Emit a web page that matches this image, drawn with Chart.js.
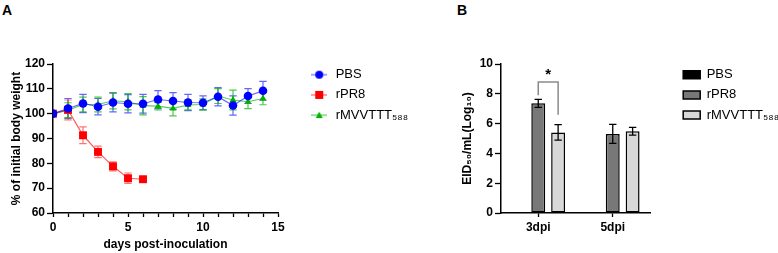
<!DOCTYPE html>
<html>
<head>
<meta charset="utf-8">
<script src="https://cdn.jsdelivr.net/npm/chart.js@4.4.0/dist/chart.umd.min.js"></script>
<style>
    html, body { margin: 0; padding: 0; background: #fff; }
    body { width: 778px; height: 253px; position: relative; overflow: hidden; font-family: "Liberation Sans", Arial, sans-serif; }
    .panel { position: absolute; top: 0; height: 253px; }
    #panelA { left: 0; width: 455px; }
    #panelB { left: 455px; width: 323px; }
    .tag { position: absolute; top: 3px; font: bold 14px "Liberation Sans", Arial, sans-serif; line-height: 14px; }
</style>
</head>
<body>
<div class="tag" style="left:2px">A</div>
<div class="tag" style="left:457px">B</div>
<div class="panel" id="panelA"><canvas id="weightChart"></canvas></div>
<div class="panel" id="panelB"><canvas id="titerChart"></canvas></div>
<script>
// --- Data: body weight (panel A) ---
const days = [0, 1, 2, 3, 4, 5, 6, 7, 8, 9, 10, 11, 12, 13, 14];
const groupNames = ['PBS', 'rPR8', 'rMVVTTT\u2085\u2088\u2088'];

const pbsWeight = [100, 102.1, 104.1, 102.8, 104.5, 104, 104, 105.7, 105.1, 104.5, 104.4, 106.8, 103.3, 107.1, 109.2];
const pbsWeightErr = [0, 4, 3.7, 3.3, 3.8, 3.7, 3.8, 3.6, 3.4, 3.3, 2.8, 3.7, 3.9, 3, 3.8];

const pr8Weight = [100, 101.5, 91.3, 84.6, 78.8, 74, 73.6]; // no survivors after day 6
const pr8WeightErr = [0, 4, 3.4, 2.3, 1.8, 2.1, 0.5];

const mvvWeight = [100, 101.4, 103.7, 103.7, 105.2, 104.8, 103.2, 103, 102.1, 103.5, 103.7, 107.1, 105.5, 104.8, 106.1];
const mvvWeightErr = [0, 3, 3, 3, 3.3, 3.3, 3.7, 1.5, 3, 2, 2.3, 3, 4, 2.8, 2.5];

const weightTickLabels = [0, 5, 10, 15];

// --- Data: lung virus titre (panel B) ---
const timepoints = ['3dpi', '5dpi'];
const pbsTiter = [null, null];           // nothing detected
const pr8Titer = [7.36, 5.31];
const pr8TiterErr = [0.27, 0.64];
const mvvTiter = [5.41, 5.49];
const mvvTiterErr = [0.52, 0.26];

// significance bracket at 3dpi: left foot, top, right foot
const sigBracket = [7.9, 8.8, 6.6];
const sigLabel = '*';

// --- Shared look ---
const FONT = '"Liberation Sans", Arial, sans-serif';
Chart.defaults.font.family = FONT;
Chart.defaults.color = '#000';

const colors = {
    pbs: '#0000ff', pbsLine: 'rgba(0, 0, 255, 0.6)',
    pr8: '#ff0000', pr8Line: 'rgba(255, 0, 0, 0.65)',
    mvv: '#00b000', mvvLine: 'rgba(0, 176, 0, 0.65)'
};

const toXY = (vals) => vals.map((v, i) => ({ x: days[i], y: v }));

// error bars drawn from each dataset's "errors" array, via the chart's own scales
const errorBars = {
    id: 'errorBars',
    draw(chart, opts) {
        const ctx = chart.ctx;
        const yScale = chart.scales.y;
        chart.data.datasets.forEach((ds, i) => {
            if (!ds.errors) return;
            const meta = chart.getDatasetMeta(i);
            ctx.save();
            ctx.strokeStyle = ds.errorColor || '#000';
            ctx.lineWidth = opts.width || 1.2;
            meta.data.forEach((el, j) => {
                const raw = ds.data[j];
                const v = (raw && typeof raw === 'object') ? raw.y : raw;
                const e = ds.errors[j];
                if (v == null || !e) return;
                const yTop = yScale.getPixelForValue(v + e);
                const yBot = yScale.getPixelForValue(v - e);
                const half = opts.cap || 3.5;
                ctx.beginPath();
                ctx.moveTo(el.x, yTop); ctx.lineTo(el.x, yBot);
                ctx.moveTo(el.x - half, yTop); ctx.lineTo(el.x + half, yTop);
                ctx.moveTo(el.x - half, yBot); ctx.lineTo(el.x + half, yBot);
                ctx.stroke();
            });
            ctx.restore();
        });
    },
    beforeDatasetsDraw(chart, args, opts) { if (opts.under) this.draw(chart, opts); },
    afterDatasetsDraw(chart, args, opts) { if (!opts.under) this.draw(chart, opts); }
};

// the legend clips to its own box, so give it a fixed width that fits the longest label
const legendWidth = {
    id: 'legendWidth',
    beforeLayout(chart, args, opts) {
        const lg = chart.legend;
        if (!lg || lg._fixedWidth) return;
        const fit = lg.fit;
        lg.fit = function () { fit.call(this); this.width = opts.width; };
        lg._fixedWidth = true;
    }
};

// small "line + marker" icon for the panel A legend
function legendIcon(fill, line, shape) {
    const c = document.createElement('canvas');
    c.width = 16; c.height = 10;
    const g = c.getContext('2d');
    g.strokeStyle = line; g.lineWidth = 1.2;
    g.beginPath(); g.moveTo(0, 5); g.lineTo(16, 5); g.stroke();
    g.fillStyle = fill;
    g.beginPath();
    if (shape === 'circle') g.arc(8, 5, 4, 0, Math.PI * 2);
    else if (shape === 'rect') g.rect(4, 1, 8, 8);
    else { g.moveTo(8, 1.5); g.lineTo(11.5, 8); g.lineTo(4.5, 8); g.closePath(); }
    g.fill();
    return c;
}

// invisible right-hand spacer, keeps the legend away from the plot
const spacer = (w) => ({
    type: 'linear', position: 'right', display: true,
    grid: { display: false }, ticks: { display: false }, border: { display: false },
    afterFit: (s) => { s.width = w; }
});

// --- Panel A: body weight ---
const weightIcons = [
    legendIcon(colors.pbs, colors.pbsLine, 'circle'),
    legendIcon(colors.pr8, colors.pr8Line, 'rect'),
    legendIcon(colors.mvv, colors.mvvLine, 'triangle')
];

new Chart(document.getElementById('weightChart'), {
    type: 'line',
    data: {
        datasets: [{
            label: groupNames[0],
            data: toXY(pbsWeight),
            errors: pbsWeightErr,
            errorColor: 'rgba(0, 0, 255, 0.6)',
            borderColor: colors.pbsLine,
            backgroundColor: colors.pbs,
            pointBackgroundColor: colors.pbs,
            pointBorderWidth: 0,
            pointStyle: 'circle',
            pointRadius: 4.3,
            borderWidth: 1.2
        }, {
            label: groupNames[1],
            data: toXY(pr8Weight),
            errors: pr8WeightErr,
            errorColor: 'rgba(255, 0, 0, 0.55)',
            borderColor: colors.pr8Line,
            backgroundColor: colors.pr8,
            pointBackgroundColor: colors.pr8,
            pointBorderWidth: 0,
            pointStyle: 'rect',
            pointRadius: 5.6,
            borderWidth: 1.2
        }, {
            label: groupNames[2],
            data: toXY(mvvWeight),
            errors: mvvWeightErr,
            errorColor: 'rgba(0, 176, 0, 0.7)',
            borderColor: colors.mvvLine,
            backgroundColor: colors.mvv,
            pointBackgroundColor: colors.mvv,
            pointBorderWidth: 0,
            pointStyle: 'triangle',
            pointRadius: 4,
            borderWidth: 1.2
        }]
    },
    options: {
        responsive: true,
        maintainAspectRatio: false,
        animation: false,
        events: [],
        layout: { padding: { top: 61, right: 33, bottom: 0, left: 0 } },
        plugins: {
            title: { display: true, text: '', padding: 0, font: { size: 3, lineHeight: 1 } },
            tooltip: { enabled: false },
            errorBars: { under: true, cap: 3.7, width: 1.2 },
            legendWidth: { width: 120 },
            legend: {
                position: 'right',
                align: 'start',
                labels: {
                    usePointStyle: true,
                    pointStyleWidth: 20,
                    padding: 7.2,
                    color: '#000',
                    font: { size: 13 },
                    generateLabels: (chart) =>
                        Chart.defaults.plugins.legend.labels.generateLabels(chart)
                            .map((item, i) => ({ ...item, pointStyle: weightIcons[i] }))
                }
            }
        },
        scales: {
            x: {
                type: 'linear',
                min: 0,
                max: 15,
                afterFit: (s) => { s.height = 40; },
                border: { color: '#000', width: 1.5 },
                grid: { drawOnChartArea: false, drawTicks: true, tickLength: 4, tickColor: '#000', tickWidth: 1.3 },
                ticks: {
                    stepSize: 1,
                    autoSkip: false,
                    maxRotation: 0,
                    padding: 3,
                    font: { size: 12, weight: 'bold' },
                    callback: (v) => weightTickLabels.includes(v) ? v : ''
                },
                title: {
                    display: true,
                    text: 'days post-inoculation',
                    font: { size: 12, weight: 'bold' },
                    padding: { top: 0, bottom: 1 }
                }
            },
            y: {
                min: 60,
                max: 120,
                afterFit: (s) => { s.width = 53; },
                border: { color: '#000', width: 1.5 },
                grid: { drawOnChartArea: false, drawTicks: true, tickLength: 6, tickColor: '#000', tickWidth: 1.3 },
                ticks: { stepSize: 10, padding: 2, font: { size: 12, weight: 'bold' } },
                title: {
                    display: true,
                    text: '% of initial body weight',
                    font: { size: 12, weight: 'bold' },
                    padding: { top: 9, bottom: 0 }
                }
            },
            gap: spacer(24)
        }
    },
    plugins: [errorBars, legendWidth]
});

// --- Panel B: virus titre ---
const sigMarker = {
    id: 'sigMarker',
    afterDatasetsDraw(chart) {
        const { ctx, scales: { y } } = chart;
        const x1 = chart.getDatasetMeta(1).data[0].x;
        const x2 = chart.getDatasetMeta(2).data[0].x;
        ctx.save();
        ctx.strokeStyle = '#8a8a8a';
        ctx.lineWidth = 1.5;
        ctx.beginPath();
        ctx.moveTo(x1, y.getPixelForValue(sigBracket[0]));
        ctx.lineTo(x1, y.getPixelForValue(sigBracket[1]));
        ctx.lineTo(x2, y.getPixelForValue(sigBracket[1]));
        ctx.lineTo(x2, y.getPixelForValue(sigBracket[2]));
        ctx.stroke();
        ctx.fillStyle = '#000';
        ctx.font = 'bold 15px ' + FONT;
        ctx.textAlign = 'center';
        ctx.textBaseline = 'middle';
        ctx.fillText(sigLabel, (x1 + x2) / 2, y.getPixelForValue(sigBracket[1]) - 7);
        ctx.restore();
    }
};

new Chart(document.getElementById('titerChart'), {
    type: 'bar',
    data: {
        labels: timepoints,
        datasets: [{
            label: groupNames[0],
            data: pbsTiter,
            backgroundColor: '#000'
        }, {
            label: groupNames[1],
            data: pr8Titer,
            errors: pr8TiterErr,
            backgroundColor: '#787878'
        }, {
            label: groupNames[2],
            data: mvvTiter,
            errors: mvvTiterErr,
            backgroundColor: '#d8d8d8'
        }]
    },
    options: {
        responsive: true,
        maintainAspectRatio: false,
        animation: false,
        events: [],
        datasets: {
            bar: {
                borderColor: '#000',
                borderWidth: 1.5,
                borderSkipped: false,
                barPercentage: 0.7,
                categoryPercentage: 0.8
            }
        },
        layout: { padding: { top: 61, right: 0, bottom: 0, left: 0 } },
        plugins: {
            title: { display: true, text: '', padding: 0, font: { size: 3, lineHeight: 1 } },
            tooltip: { enabled: false },
            errorBars: { under: false, cap: 3.7, width: 1.3 },
            legendWidth: { width: 102 },
            legend: {
                position: 'right',
                align: 'start',
                labels: {
                    boxWidth: 17,
                    boxHeight: 8,
                    padding: 7.2,
                    color: '#000',
                    font: { size: 13 }
                }
            }
        },
        scales: {
            x: {
                afterFit: (s) => { s.height = 40; },
                border: { color: '#000', width: 1.5 },
                grid: { offset: false, drawOnChartArea: false, drawTicks: true, tickLength: 4, tickColor: '#000', tickWidth: 1.3 },
                ticks: { padding: 3, font: { size: 12, weight: 'bold' } }
            },
            y: {
                min: 0,
                max: 10,
                afterFit: (s) => { s.width = 46; },
                border: { color: '#000', width: 1.5 },
                grid: { drawOnChartArea: false, drawTicks: true, tickLength: 6, tickColor: '#000', tickWidth: 1.3 },
                ticks: { stepSize: 2, padding: 2, font: { size: 12, weight: 'bold' } },
                title: {
                    display: true,
                    text: 'EID\u2085\u2080/mL(Log\u2081\u2080)',
                    font: { size: 12, weight: 'bold' },
                    padding: { top: 5, bottom: 0 }
                }
            },
            gap: spacer(26)
        }
    },
    plugins: [errorBars, sigMarker, legendWidth]
});
</script>
</body>
</html>
